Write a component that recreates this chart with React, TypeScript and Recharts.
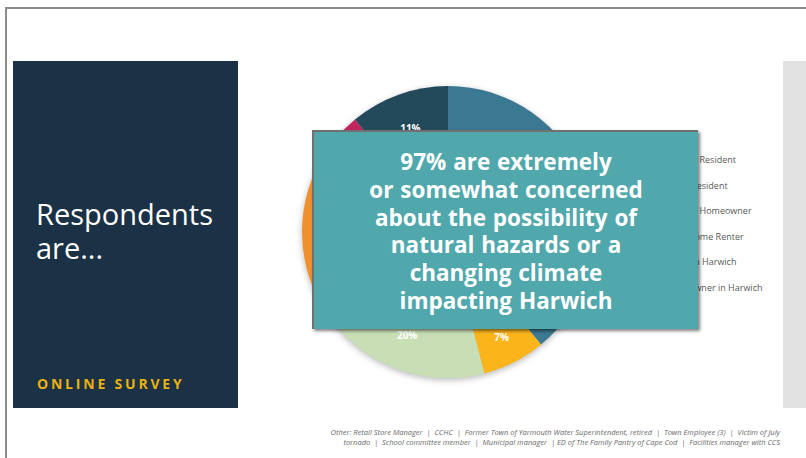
import React from 'react';
import { PieChart, Pie, Cell, Legend } from 'recharts';

const categories = [
  'Year-Round Resident',
  'Part-Time Resident',
  'Year-Round Homeowner',
  'Seasonal Home Renter',
  'Employed in Harwich',
  'Business Owner in Harwich',
];
const shares = [39, 7, 20, 20, 3, 11];
const colors = ['#3b7891', '#fbb41a', '#c8dfb5', '#f0902e', '#c2245f', '#234a5b'];
const headline = [
  '97% are extremely',
  'or somewhat concerned',
  'about the possibility of',
  'natural hazards or a',
  'changing climate',
  'impacting Harwich',
];
const footnote = [
  'Other: Retail Store Manager  |  CCHC  |  Former Town of Yarmouth Water Superintendent, retired  |  Town Employee (3)  |  Victim of July',
  'tornado  |  School committee member  |  Municipal manager  | ED of The Family Pantry of Cape Cod  |  Facilities manager with CCS',
];

const data = categories.map((name, i) => ({ name, value: shares[i] }));

const RADIAN = Math.PI / 180;
const renderLabel = (props: any) => {
  const { cx, cy, midAngle, outerRadius, value } = props;
  const r = outerRadius * (value < 10 ? 0.81 : 0.76);
  const x = cx + r * Math.cos(-midAngle * RADIAN);
  const y = cy + r * Math.sin(-midAngle * RADIAN);
  return (
    <text x={x} y={y} fill="#ffffff" fontSize={10} fontWeight={700} textAnchor="middle" dominantBaseline="central" fontFamily="Open Sans">
      {`${value}%`}
    </text>
  );
};

const renderLegend = (props: any) => {
  const payload = [...(props.payload || [])].sort(
    (a: any, b: any) => categories.indexOf(a.value) - categories.indexOf(b.value)
  );
  return (
    <div>
      {payload.map((entry: any, i: number) => (
        <div key={i} style={{ height: 25.5, display: 'flex', alignItems: 'center', fontSize: 9, color: '#595959', fontFamily: 'Open Sans', whiteSpace: 'nowrap' }}>
          <span style={{ width: 7, height: 7, background: entry.color, marginRight: 5, display: 'inline-block' }} />
          {entry.value}
        </div>
      ))}
    </div>
  );
};

export default function App() {
  return (
    <div style={{ position: 'absolute', left: 0, top: 0, width: 806, height: 458, background: '#ffffff', overflow: 'hidden', fontFamily: 'Open Sans' }}>
      <style>{`.recharts-pie { filter: drop-shadow(0px 2px 3px rgba(0,0,0,0.28)); }`}</style>
      <div style={{ position: 'absolute', left: 5, top: 7, width: 810, height: 460, borderTop: '2px solid #8c8c8c', borderLeft: '2px solid #8c8c8c' }} />
      <div style={{ position: 'absolute', left: 13, top: 61, width: 225, height: 347, background: '#1b3246' }} />
      <div style={{ position: 'absolute', left: 36, top: 197, color: '#ffffff', fontSize: 29, lineHeight: '34px' }}>
        Respondents<br />are...
      </div>
      <div style={{ position: 'absolute', left: 37, top: 374, color: '#e9b10f', fontSize: 14, fontWeight: 700, letterSpacing: 2.8 }}>
        ONLINE SURVEY
      </div>
      <div style={{ position: 'absolute', left: 783, top: 61, width: 30, height: 347, background: '#e2e2e2' }} />
      <div style={{ position: 'absolute', left: 0, top: 0 }}>
        <PieChart width={806} height={458} margin={{ top: 0, right: 0, bottom: 0, left: 0 }}>
          <Pie
            data={data}
            dataKey="value"
            nameKey="name"
            cx={448}
            cy={232}
            outerRadius={146}
            startAngle={90}
            endAngle={-270}
            stroke="none"
            label={renderLabel}
            labelLine={false}
            isAnimationActive={false}
          >
            {data.map((d, i) => (
              <Cell key={d.name} fill={colors[i]} />
            ))}
          </Pie>
          <Legend
            layout="vertical"
            content={renderLegend}
            wrapperStyle={{ position: 'absolute', left: 636, top: 147, width: 160 }}
          />
        </PieChart>
      </div>
      <div style={{ position: 'absolute', left: 312, top: 130, width: 384, height: 181, background: '#51a8ac', borderTop: '2px solid #707070', borderLeft: '2px solid #707070', boxShadow: '2px 2px 3px rgba(0,0,0,0.5)', color: '#ffffff', fontWeight: 700, fontSize: 22.5, lineHeight: '27.8px', textAlign: 'center', paddingTop: 16, boxSizing: 'content-box' as any, wordSpacing: 1 }}>
        {headline.map((l, i) => (
          <div key={i}>{l}</div>
        ))}
      </div>
      <div style={{ position: 'absolute', right: 26, top: 428, width: 480, textAlign: 'right', fontSize: 7.5, lineHeight: '9.5px', fontStyle: 'italic', color: '#6a6a6a', whiteSpace: 'pre' }}>
        {footnote.map((l, i) => (
          <div key={i}>{l}</div>
        ))}
      </div>
    </div>
  );
}
